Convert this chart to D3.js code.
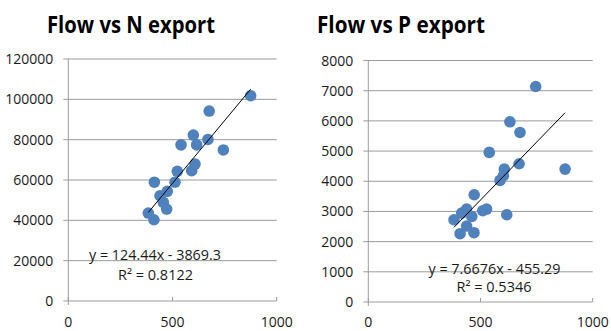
<!DOCTYPE html>
<html><head><meta charset="utf-8">
<script src="https://cdn.jsdelivr.net/npm/d3@7"></script>
<style>body{margin:0;background:#fff}svg{display:block}</style>
</head><body>
<script>
// N export chart data
const nFlow = [875, 676, 600, 670, 541, 616, 744, 608, 592, 523, 512, 413, 475, 440, 456, 472, 384, 411];
const nExport = [101800, 94200, 82300, 80100, 77400, 77400, 74900, 67900, 64600, 64300, 58900, 58900, 54400, 52200, 48900, 45600, 43600, 40300];
// P export chart data
const pFlow = [746, 631, 676, 539, 672, 877, 606, 602, 587, 472, 438, 510, 527, 617, 461, 416, 382, 438, 409, 471];
const pExport = [7138, 5970, 5617, 4955, 4579, 4403, 4403, 4182, 4028, 3553, 3079, 3023, 3079, 2890, 2834, 2945, 2724, 2516, 2262, 2295];
const xTicks = [0, 500, 1000];
const nTicks = [0, 20000, 40000, 60000, 80000, 100000, 120000];
const pTicks = [0, 1000, 2000, 3000, 4000, 5000, 6000, 7000, 8000];
const nFit = {slope: 124.44, intercept: -3869.3, r2: "0.8122", eq: "y = 124.44x - 3869.3"};
const pFit = {slope: 7.6676, intercept: -455.29, r2: "0.5346", eq: "y = 7.6676x - 455.29"};

const W = 611, H = 331;
const svg = d3.select("body").append("svg").attr("width", W).attr("height", H);
const font = "'Open Sans', 'Liberation Sans', sans-serif";
const grid = "#9b9b9b";

function chart(cfg) {
  const x = d3.scaleLinear().domain([0, 1000]).range(cfg.xr);
  const y = d3.scaleLinear().domain([0, cfg.ymax]).range(cfg.yr);
  const g = svg.append("g");
  // gridlines
  g.selectAll("line.grid").data(cfg.yTicks).join("line")
    .attr("x1", cfg.xr[0] - 5).attr("x2", cfg.xr[1])
    .attr("y1", d => y(d)).attr("y2", d => y(d))
    .attr("stroke", grid).attr("stroke-width", 1);
  // y axis line
  g.append("line").attr("x1", cfg.xr[0]).attr("x2", cfg.xr[0])
    .attr("y1", cfg.yr[0] + 4).attr("y2", cfg.yr[1]).attr("stroke", grid);
  // x ticks
  g.selectAll("line.xt").data(xTicks).join("line")
    .attr("x1", d => x(d)).attr("x2", d => x(d))
    .attr("y1", cfg.yr[0] - 4).attr("y2", cfg.yr[0]).attr("stroke", grid);
  // y labels
  g.selectAll("text.yl").data(cfg.yTicks).join("text")
    .attr("x", cfg.xr[0] - 15).attr("y", d => y(d) + 5)
    .attr("text-anchor", "end").attr("font-family", font).attr("font-size", 14)
    .attr("fill", "#1a1a1a").text(d => d);
  // x labels
  g.selectAll("text.xl").data(xTicks).join("text")
    .attr("x", d => x(d)).attr("y", 327)
    .attr("text-anchor", "middle").attr("font-family", font).attr("font-size", 14)
    .attr("fill", "#1a1a1a").text(d => d);
  // points
  const pts = cfg.xs.map((v, i) => [v, cfg.ys[i]]);
  g.selectAll("circle").data(pts).join("circle")
    .attr("cx", d => x(d[0])).attr("cy", d => y(d[1])).attr("r", 5.8)
    .attr("fill", "#4f81bd");
  // trendline
  const x0 = d3.min(cfg.xs), x1 = d3.max(cfg.xs);
  g.append("line")
    .attr("x1", x(x0)).attr("y1", y(cfg.fit.slope * x0 + cfg.fit.intercept))
    .attr("x2", x(x1)).attr("y2", y(cfg.fit.slope * x1 + cfg.fit.intercept))
    .attr("stroke", "#000").attr("stroke-width", 1);
  // equation
  g.append("text").attr("x", cfg.eq[0]).attr("y", cfg.eq[1]).attr("text-anchor", "middle")
    .attr("font-family", font).attr("font-size", 14).attr("fill", "#1a1a1a")
    .attr("textLength", 132).attr("lengthAdjust", "spacingAndGlyphs").text(cfg.fit.eq);
  g.append("text").attr("x", cfg.r2[0]).attr("y", cfg.r2[1]).attr("text-anchor", "middle")
    .attr("font-family", font).attr("font-size", 14).attr("fill", "#1a1a1a")
    .attr("textLength", 75).attr("lengthAdjust", "spacingAndGlyphs").text("R² = " + cfg.fit.r2);
  // title
  g.append("text").attr("x", cfg.title[0]).attr("y", 33).attr("text-anchor", "middle")
    .attr("font-family", font).attr("font-size", 23).attr("font-weight", "bold")
    .attr("fill", "#000").attr("textLength", 168).attr("lengthAdjust", "spacingAndGlyphs")
    .text(cfg.title[1]);
}

chart({xr: [68.3, 276.7], yr: [301, 59], ymax: 120000, yTicks: nTicks, xs: nFlow, ys: nExport,
  fit: nFit, eq: [155, 260], r2: [155.5, 280], title: [131, "Flow vs N export"]});
chart({xr: [368.3, 592.7], yr: [302, 60.5], ymax: 8000, yTicks: pTicks, xs: pFlow, ys: pExport,
  fit: pFit, eq: [494.5, 274], r2: [494, 292], title: [401, "Flow vs P export"]});
</script>
</body></html>
